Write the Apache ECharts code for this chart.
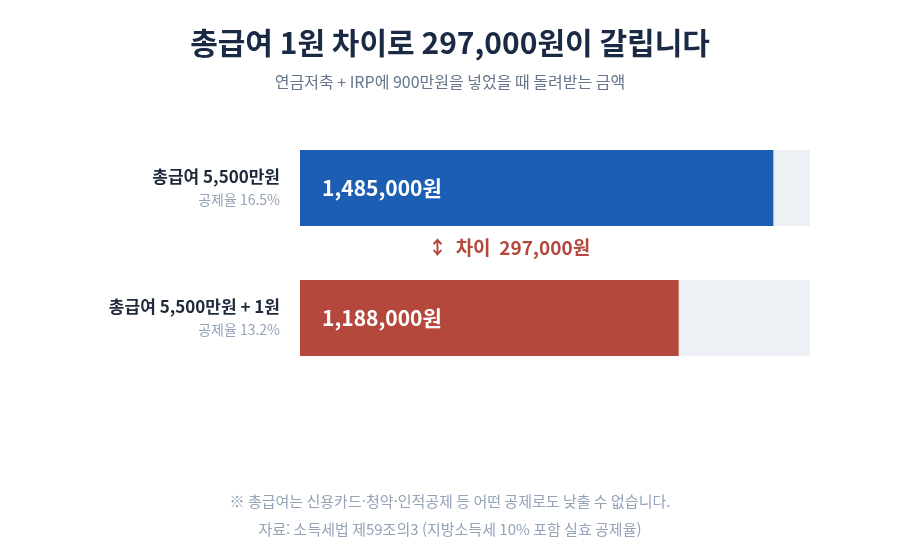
<!DOCTYPE html>
<html lang="ko" style="height: 100%">
<head>
    <meta charset="UTF-8">
    <title>총급여 1원 차이</title>
    <script src="https://cdn.jsdelivr.net/npm/echarts@6/dist/echarts.min.js"></script>
</head>
<body style="height: 100%; margin: 0; background: #fff">
    <div id="main" style="width: 900px; height: 560px"></div>
    <script>
        var FONT = '"Noto Sans CJK KR", "Noto Sans", sans-serif';

        // 데이터
        var categories = ['총급여 5,500만원', '총급여 5,500만원 + 1원'];
        var rates = ['공제율 16.5%', '공제율 13.2%'];
        var refunds = [1485000, 1188000];
        var axisMax = 1600000;
        var barColors = ['#1b5eb3', '#b4483c'];

        function fmt(v) {
            return v.toLocaleString('en-US') + '원';
        }

        var myChart = echarts.init(document.getElementById('main'));

        var option = {
            animation: false,
            textStyle: { fontFamily: FONT },
            title: [{
                text: '총급여 1원 차이로 ' + fmt(refunds[0] - refunds[1]) + '이 갈립니다',
                left: 'center',
                top: 23,
                textStyle: { fontSize: 30, fontWeight: 'bold', color: '#1a2a44', fontFamily: FONT }
            }, {
                text: '연금저축 + IRP에 900만원을 넣었을 때 돌려받는 금액',
                left: 'center',
                top: 69,
                textStyle: { fontSize: 16, fontWeight: 'normal', color: '#64748b', fontFamily: FONT }
            }, {
                text: '※ 총급여는 신용카드·청약·인적공제 등 어떤 공제로도 낮출 수 없습니다.',
                left: 'center',
                top: 489,
                textStyle: { fontSize: 15, fontWeight: 'normal', color: '#94a3b8', fontFamily: FONT }
            }, {
                text: '자료: 소득세법 제59조의3 (지방소득세 10% 포함 실효 공제율)',
                left: 'center',
                top: 517,
                textStyle: { fontSize: 15, fontWeight: 'normal', color: '#94a3b8', fontFamily: FONT }
            }],
            grid: {
                left: 300,
                right: 90,
                top: 123,
                height: 260
            },
            xAxis: {
                type: 'value',
                min: 0,
                max: axisMax,
                show: false
            },
            yAxis: {
                type: 'category',
                inverse: true,
                data: categories,
                axisLine: { show: false },
                axisTick: { show: false },
                axisLabel: {
                    margin: 20,
                    align: 'right',
                    formatter: function (val, idx) {
                        return '{a|' + val + '}\n{b|' + rates[idx] + '}';
                    },
                    rich: {
                        a: { fontSize: 17, fontWeight: 'bold', color: '#1e293b', lineHeight: 24, align: 'right', fontFamily: FONT },
                        b: { fontSize: 14, color: '#94a3b8', lineHeight: 22, align: 'right', fontFamily: FONT }
                    }
                }
            },
            series: [{
                type: 'bar',
                silent: true,
                barWidth: 76,
                data: categories.map(function () { return axisMax; }),
                itemStyle: { color: '#edf0f5' },
                z: 1
            }, {
                type: 'bar',
                barWidth: 76,
                barGap: '-100%',
                data: refunds.map(function (v, i) {
                    return { value: v, itemStyle: { color: barColors[i] } };
                }),
                label: {
                    show: true,
                    position: 'insideLeft',
                    distance: 22,
                    formatter: function (p) { return fmt(p.value); },
                    color: '#fff',
                    fontSize: 21,
                    fontWeight: 'bold',
                    fontFamily: FONT
                },
                z: 2
            }],
            graphic: [{
                type: 'text',
                left: 428,
                top: 238,
                style: {
                    text: '↕  차이  ' + fmt(refunds[0] - refunds[1]),
                    fill: '#b4483c',
                    fontSize: 19,
                    fontWeight: 'bold',
                    fontFamily: FONT
                }
            }]
        };

        myChart.setOption(option);
    </script>
</body>
</html>
